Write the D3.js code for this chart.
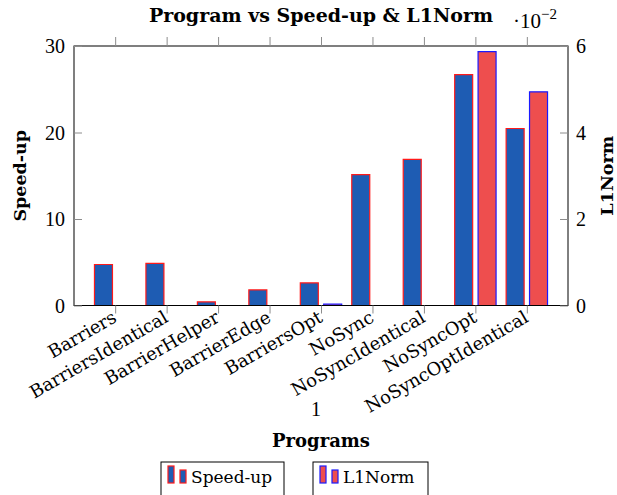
<!DOCTYPE html>
<html>
<head>
<meta charset="utf-8">
<script src="https://cdn.jsdelivr.net/npm/d3@7"></script>
<style>
  html, body { margin: 0; padding: 0; background: #fff; }
  svg { display: block; }
  text { font-family: "DejaVu Serif", serif; fill: #000; }
</style>
</head>
<body>
<svg id="chart" width="617" height="495"></svg>
<script>
// ---- data ----
const categories = ["Barriers", "BarriersIdentical", "BarrierHelper", "BarrierEdge", "BarriersOpt",
                    "NoSync", "NoSyncIdentical", "NoSyncOpt", "NoSyncOptIdentical"];
const speedup = [4.74, 4.86, 0.42, 1.8, 2.61, 15.14, 16.9, 26.7, 20.46];
const l1norm  = [0, 0, 0, 0, 0.0003, 0, 0, 0.0587, 0.0494];
const leftTicks = [0, 10, 20, 30];
const rightTicks = [0, 0.02, 0.04, 0.06];
const seriesNames = ["Speed-up", "L1Norm"];
const title = "Program vs Speed-up & L1Norm";
const xTitle = "Programs";
const extraXLabel = "1";

// ---- layout ----
const svg = d3.select("#chart");
const X0 = 74, X1 = 568, Y0 = 46, Y1 = 305.5;
const barW = 18, barOff = 11.7;
const speedFill = "#1e5cb3", speedStroke = "#ff1a1a";
const l1Fill = "#ee4e4e", l1Stroke = "#1a1aff";
const tickGray = "#8c8c8c";
const numFont = '"Liberation Serif", serif';
const txtFont = '"DejaVu Serif", serif';

const x = d3.scalePoint().domain(categories).range([X0, X1]).padding(0.8);
const yL = d3.scaleLinear().domain([0, 30]).range([Y1, Y0]);
const yR = d3.scaleLinear().domain([0, 0.06]).range([Y1, Y0]);

function barPath(cx, y0, y1) {
  const p = d3.path();
  p.moveTo(cx - barW / 2, y0);
  p.lineTo(cx + barW / 2, y0);
  p.lineTo(cx + barW / 2, y1);
  p.lineTo(cx - barW / 2, y1);
  p.closePath();
  return p.toString();
}

// bars
svg.append("g").selectAll("path").data(categories).join("path")
  .attr("d", (c, i) => barPath(x(c) - barOff, yL(0), yL(speedup[i])))
  .attr("fill", speedFill).attr("stroke", speedStroke).attr("stroke-width", 1.2);

svg.append("g").selectAll("path").data(categories).join("path")
  .attr("d", (c, i) => barPath(x(c) + barOff, yR(0), yR(l1norm[i])))
  .attr("fill", l1Fill).attr("stroke", l1Stroke).attr("stroke-width", 1.2);

// frame
svg.append("rect").attr("x", X0).attr("y", Y0).attr("width", X1 - X0).attr("height", Y1 - Y0)
  .attr("fill", "none").attr("stroke", "#000").attr("stroke-width", 1);

// axes
const axL = d3.axisLeft(yL).tickValues(leftTicks).tickSize(-8).tickPadding(9).tickFormat(d3.format("d"));
const gL = svg.append("g").attr("transform", `translate(${X0},0)`).call(axL);
const axR = d3.axisRight(yR).tickValues(rightTicks).tickSize(-8).tickPadding(8).tickFormat(d => d3.format("d")(Math.round(d * 100)));
const gR = svg.append("g").attr("transform", `translate(${X1},0)`).call(axR);
const axB = d3.axisBottom(x).tickSize(8).tickFormat("");
const gB = svg.append("g").attr("transform", `translate(0,${Y1})`).call(axB);
const axT = d3.axisTop(x).tickSize(9).tickFormat("");
const gT = svg.append("g").attr("transform", `translate(0,${Y0})`).call(axT);

[gL, gR, gB, gT].forEach(g => {
  g.select(".domain").remove();
  g.selectAll(".tick line").attr("stroke", tickGray).attr("stroke-width", 1);
  g.selectAll(".tick text").style("font-family", numFont).style("font-size", "20px").attr("fill", "#000");
});
gL.selectAll(".tick text").attr("dy", "0.34em");
gR.selectAll(".tick text").attr("dy", "0.34em");

// rotated category labels
gB.selectAll(".tick").append("text")
  .attr("transform", "translate(-1,10) rotate(-30)")
  .attr("text-anchor", "end").attr("dy", "0.35em")
  .style("font-family", txtFont).style("font-size", "18px")
  .text(d => d);

// extra "1"
svg.append("text").attr("x", x(categories[4]) - 5).attr("y", Y1 + 110).attr("text-anchor", "middle")
  .style("font-family", numFont).style("font-size", "20px").text(extraXLabel);

// title
svg.append("text").attr("x", (X0 + X1) / 2).attr("y", 22).attr("text-anchor", "middle")
  .style("font-size", "19px").style("font-weight", "bold").text(title);

// scale factor
const sf = svg.append("text").attr("x", 513).attr("y", 28).style("font-family", numFont).style("font-size", "21px");
sf.append("tspan").text("·10");
sf.append("tspan").attr("dy", -9).style("font-size", "15px").text("−2");

// axis titles
svg.append("text").attr("transform", `translate(26,${(Y0 + Y1) / 2}) rotate(-90)`)
  .attr("text-anchor", "middle").style("font-size", "17.5px").style("font-weight", "bold").text(seriesNames[0]);
svg.append("text").attr("transform", `translate(613,${(Y0 + Y1) / 2}) rotate(-90)`)
  .attr("text-anchor", "middle").style("font-size", "17.5px").style("font-weight", "bold").text(seriesNames[1]);
svg.append("text").attr("x", 321).attr("y", 447).attr("text-anchor", "middle")
  .style("font-size", "18px").style("font-weight", "bold").text(xTitle);

// legend
const legendBoxes = [
  { x: 161, w: 123, fill: speedFill, stroke: speedStroke },
  { x: 313, w: 115, fill: l1Fill, stroke: l1Stroke }
];
const lg = svg.append("g").selectAll("g").data(legendBoxes).join("g")
  .attr("transform", d => `translate(${d.x},462)`);
lg.append("rect").attr("width", d => d.w).attr("height", 36)
  .attr("fill", "#fff").attr("stroke", "#000").attr("stroke-width", 1);
lg.append("rect").attr("x", 7).attr("y", 4).attr("width", 6).attr("height", 17)
  .attr("fill", d => d.fill).attr("stroke", d => d.stroke).attr("stroke-width", 1.2);
lg.append("rect").attr("x", 19).attr("y", 8).attr("width", 6).attr("height", 13)
  .attr("fill", d => d.fill).attr("stroke", d => d.stroke).attr("stroke-width", 1.2);
lg.append("text").attr("x", 30).attr("y", 21).style("font-size", "17px")
  .text((d, i) => seriesNames[i]);
</script>
</body>
</html>
